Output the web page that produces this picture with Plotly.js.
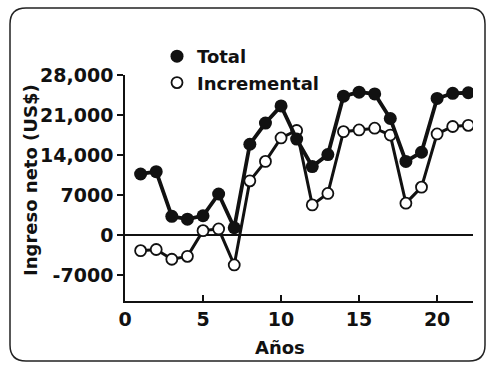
<!DOCTYPE html>
<html>
<head>
<meta charset="utf-8">
<script src="https://cdn.plot.ly/plotly-3.0.1.min.js"></script>
<style>html,body{margin:0;padding:0;background:#fff;}#chart{width:490px;height:366px;}</style>
</head>
<body>
<div id="chart"></div>
<script>
// Data
const years = [1,2,3,4,5,6,7,8,9,10,11,12,13,14,15,16,17,18,19,20,21,22];
const total = [10700,11100,3300,2800,3400,7200,1300,15900,19600,22600,16800,12000,14100,24300,25000,24700,20400,12900,14500,23900,24800,24900];
const incremental = [-2700,-2500,-4200,-3700,800,1100,-5200,9500,12900,17000,18300,5300,7300,18100,18400,18700,17500,5600,8400,17700,19000,19200];
const yTickVals = [-7000,0,7000,14000,21000,28000];
const yTickText = ["-7000","0","7000","14,000","21,000","28,000"];
const xTickVals = [0,5,10,15,20];
const seriesNames = ["Total","Incremental"];
const xTitle = "Años";
const yTitle = "Ingreso neto (US$)";

const FONT = "DejaVu Sans, sans-serif";
const L = 125, R = 17, T = 75, B = 65, Wd = 490, Ht = 366;
const PW = Wd - L - R, PH = Ht - T - B;
const px = x => (x - L) / PW;
const py = y => (Ht - B - y) / PH;

const traces = [
  {x: years, y: incremental, mode: "lines+markers", name: seriesNames[1], showlegend: false,
   line: {color: "#111", width: 3},
   marker: {symbol: "circle", size: 11, color: "#fff", line: {color: "#111", width: 1.8}}},
  {x: years, y: total, mode: "lines+markers", name: seriesNames[0], showlegend: false,
   line: {color: "#111", width: 3.8},
   marker: {symbol: "circle", size: 13, color: "#111"}},
  {x: [null], y: [null], mode: "markers", name: seriesNames[0], showlegend: true,
   marker: {symbol: "circle", size: 13, color: "#111"}},
  {x: [null], y: [null], mode: "markers", name: seriesNames[1], showlegend: true,
   marker: {symbol: "circle", size: 11, color: "#fff", line: {color: "#111", width: 1.8}}}
];

// rounded frame around the figure (pixel -> paper)
const fx0 = 10, fx1 = 485, fy0 = 8, fy1 = 361, r = 16;
const path = `M ${px(fx0+r)},${py(fy0)} L ${px(fx1-r)},${py(fy0)} Q ${px(fx1)},${py(fy0)} ${px(fx1)},${py(fy0+r)} ` +
  `L ${px(fx1)},${py(fy1-r)} Q ${px(fx1)},${py(fy1)} ${px(fx1-r)},${py(fy1)} ` +
  `L ${px(fx0+r)},${py(fy1)} Q ${px(fx0)},${py(fy1)} ${px(fx0)},${py(fy1-r)} ` +
  `L ${px(fx0)},${py(fy0+r)} Q ${px(fx0)},${py(fy0)} ${px(fx0+r)},${py(fy0)} Z`;

const layout = {
  width: Wd, height: Ht,
  margin: {l: L, r: R, t: T, b: B},
  paper_bgcolor: "#fff", plot_bgcolor: "#fff",
  font: {family: FONT, color: "#111", size: 18},
  showlegend: true,
  legend: {x: px(157), xanchor: "left", y: py(38), yanchor: "top",
    bgcolor: "rgba(0,0,0,0)", font: {family: FONT, size: 18, weight: "bold", color: "#111"},
    tracegroupgap: 0, itemwidth: 30},
  xaxis: {range: [0, 22.3], tickvals: xTickVals, ticktext: xTickVals.map(String),
    ticks: "inside", ticklen: 6, tickwidth: 1.8, tickcolor: "#111",
    showline: true, linecolor: "#111", linewidth: 1.8, showgrid: false, zeroline: false,
    tickfont: {family: FONT, size: 19, weight: "bold", color: "#111"}},
  yaxis: {range: [-11500, 28000], tickvals: yTickVals, ticktext: yTickText,
    ticks: "outside", ticklen: 6, tickwidth: 1.8, tickcolor: "#111",
    showline: true, linecolor: "#111", linewidth: 1.8, showgrid: false,
    zeroline: true, zerolinecolor: "#111", zerolinewidth: 1.6,
    tickfont: {family: FONT, size: 19, weight: "bold", color: "#111"}},
  annotations: [
    {text: xTitle, xref: "paper", yref: "paper", x: px(280), y: py(347), xanchor: "center", yanchor: "middle",
     showarrow: false, font: {family: FONT, size: 18, weight: "bold", color: "#111"}},
    {text: yTitle, xref: "paper", yref: "paper", x: px(30), y: py(180), xanchor: "center", yanchor: "middle",
     textangle: -90, showarrow: false, font: {family: FONT, size: 18, weight: "bold", color: "#111"}}
  ],
  shapes: [{type: "path", xref: "paper", yref: "paper", path: path, line: {color: "#222", width: 1.5}}]
};

Plotly.newPlot("chart", traces, layout, {staticPlot: true, displayModeBar: false});
</script>
</body>
</html>
